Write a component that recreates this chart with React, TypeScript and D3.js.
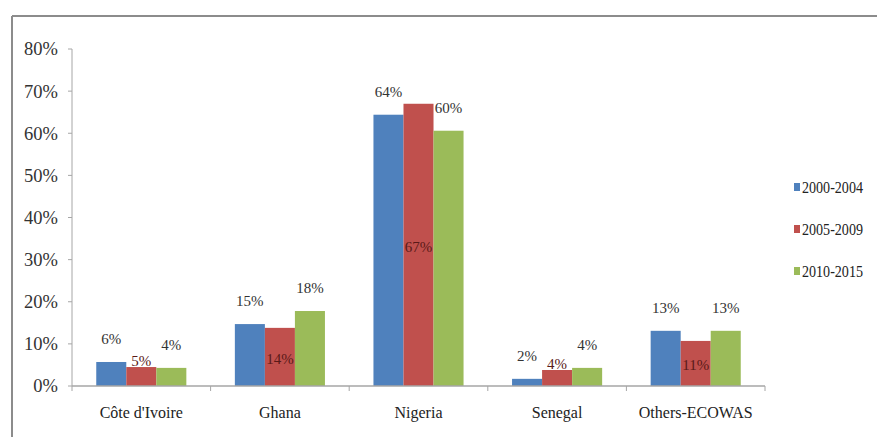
import React from "react";
import * as d3 from "d3";

const categories = ["Côte d'Ivoire", "Ghana", "Nigeria", "Senegal", "Others-ECOWAS"];
const seriesNames = ["2000-2004", "2005-2009", "2010-2015"];
const s2000 = [5.7, 14.7, 64.4, 1.7, 13.1];
const s2005 = [4.5, 13.8, 67.0, 3.8, 10.7];
const s2010 = [4.3, 17.8, 60.6, 4.3, 13.1];
const labels2000 = ["6%", "15%", "64%", "2%", "13%"];
const labels2005 = ["5%", "14%", "67%", "4%", "11%"];
const labels2010 = ["4%", "18%", "60%", "4%", "13%"];
const yTicks = [0, 10, 20, 30, 40, 50, 60, 70, 80];
const colors = ["#4F81BD", "#C0504D", "#9BBB59"];

const W = 877, H = 437;
const left = 72, right = 765, top = 49, bottom = 386;
const FONT = "Liberation Serif";

export default function App() {
  const x = d3.scaleBand<string>().domain(categories).range([left, right]).paddingInner(0.35).paddingOuter(0.175);
  const xb = d3.scaleBand<string>().domain(categories).range([left, right]);
  const y = d3.scaleLinear().domain([0, 80]).range([bottom, top]);
  const inner = d3.scaleBand<number>().domain([0, 1, 2]).range([0, x.bandwidth()]);
  const series = [s2000, s2005, s2010];
  const labs = [labels2000, labels2005, labels2010];
  const bw = inner.bandwidth();

  const labelPos = (si: number, ci: number) => {
    const v = series[si][ci];
    const cx = (x(categories[ci]) as number) + (inner(si) as number) + bw / 2;
    if (si === 1) {
      if (v > 8) return { cx, cy: y(v / 2) + 7 };
      return { cx, cy: y(v) - 1 };
    }
    return { cx, cy: y(v) - 18 };
  };

  return (
    <svg width={W} height={H} style={{ display: "block", position: "absolute", left: 0, top: 0 }}>
      <rect x={0} y={0} width={W} height={H} fill="#fff" />
      {/* frame */}
      <line x1={12} y1={16} x2={W} y2={16} stroke="#8c8c8c" strokeWidth={2} />
      <line x1={12} y1={16} x2={12} y2={H} stroke="#8c8c8c" strokeWidth={2} />
      {/* y axis */}
      <line x1={left} y1={top} x2={left} y2={bottom} stroke="#a6a6a6" strokeWidth={1} />
      {yTicks.map((t) => (
        <g key={t}>
          <line x1={left - 4} x2={left} y1={y(t)} y2={y(t)} stroke="#a6a6a6" />
          <text x={58} y={y(t)} dy="0.35em" textAnchor="end" fontFamily={FONT} fontSize={18.5} fill="#333">
            {t}%
          </text>
        </g>
      ))}
      {/* bars */}
      {series.map((s, si) =>
        s.map((v, ci) => (
          <rect
            key={si + "-" + ci}
            x={(x(categories[ci]) as number) + (inner(si) as number)}
            y={y(v)}
            width={bw}
            height={bottom - y(v)}
            fill={colors[si]}
          />
        ))
      )}
      {/* x axis */}
      <line x1={left} y1={bottom} x2={right} y2={bottom} stroke="#a6a6a6" strokeWidth={1.5} />
      {categories.map((c, i) => (
        <line key={"t" + i} x1={xb(c) as number} x2={xb(c) as number} y1={bottom} y2={bottom + 5} stroke="#a6a6a6" />
      ))}
      <line x1={right} x2={right} y1={bottom} y2={bottom + 5} stroke="#a6a6a6" />
      {categories.map((c) => (
        <text key={c} x={(xb(c) as number) + xb.bandwidth() / 2} y={418} textAnchor="middle" fontFamily={FONT} fontSize={16} fill="#222">
          {c}
        </text>
      ))}
      {/* data labels */}
      {series.map((s, si) =>
        s.map((v, ci) => {
          const p = labelPos(si, ci);
          return (
            <text key={"l" + si + "-" + ci} x={p.cx} y={p.cy} textAnchor="middle" fontFamily={FONT} fontSize={15} fill={si === 1 ? "#5a1a18" : "#333"}>
              {labs[si][ci]}
            </text>
          );
        })
      )}
      {/* legend */}
      {seriesNames.map((n, i) => (
        <g key={n} transform={`translate(794, ${187 + i * 42})`}>
          <rect x={0} y={-4} width={6} height={8} fill={colors[i]} />
          <g transform="translate(8,0) scale(0.88,1)">
            <text x={0} y={0} dy="0.35em" fontFamily={FONT} fontSize={16} fill="#222">
              {n}
            </text>
          </g>
        </g>
      ))}
    </svg>
  );
}
